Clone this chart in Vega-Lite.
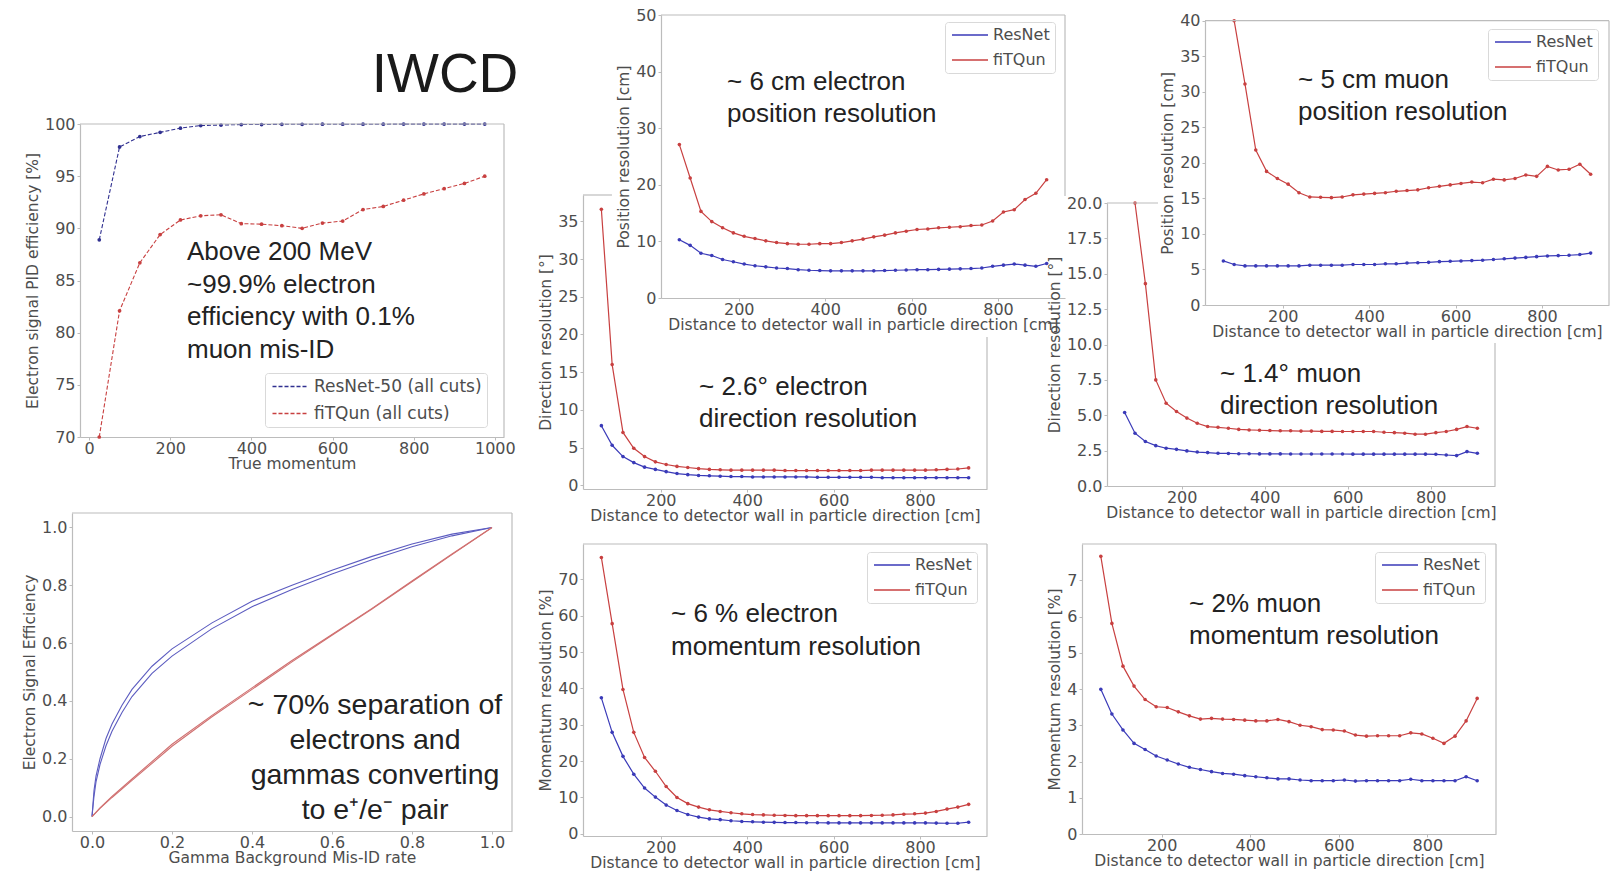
{
"$schema": "https://vega.github.io/schema/vega-lite/v6.json",
"width": 1611, "height": 871, "padding": 0, "autosize": {"type": "none"},
"background": "white",
"config": {
  "view": {"stroke": null},
  "font": "DejaVu Sans",
  "axis": {"grid": false, "domainColor": "#bcbcbc", "domainWidth": 1.2, "tickColor": "#bcbcbc", "tickWidth": 1, "tickSize": 3,
           "labelFont": "DejaVu Sans", "labelFontSize": 16, "labelColor": "#4d4d4d", "labelFlush": false, "labelOverlap": false, "labelBound": false,
           "titleFont": "DejaVu Sans", "titleFontSize": 15.5, "titleFontWeight": "normal", "titleColor": "#4d4d4d"},
  "axisX": {"labelPadding": 0, "titlePadding": 0},
  "axisY": {"labelPadding": 2, "titlePadding": 4},
  "legend": {"labelFont": "DejaVu Sans", "labelFontSize": 16, "labelColor": "#4d4d4d", "labelLimit": 300, "symbolType": "M-3,0H3", "symbolSize": 144, "symbolOffset": 12, "symbolStrokeWidth": 1.3,
             "padding": 5, "rowPadding": 9, "labelOffset": 15, "fillColor": "white", "strokeColor": "#d9d9d9", "cornerRadius": 3}
},
"datasets": {
  "pid": [
    {"p": 25, "series": "ResNet-50 (all cuts)", "eff": 88.9},
    {"p": 75, "series": "ResNet-50 (all cuts)", "eff": 97.8},
    {"p": 125, "series": "ResNet-50 (all cuts)", "eff": 98.8},
    {"p": 175, "series": "ResNet-50 (all cuts)", "eff": 99.2},
    {"p": 225, "series": "ResNet-50 (all cuts)", "eff": 99.6},
    {"p": 275, "series": "ResNet-50 (all cuts)", "eff": 99.85},
    {"p": 325, "series": "ResNet-50 (all cuts)", "eff": 99.9},
    {"p": 375, "series": "ResNet-50 (all cuts)", "eff": 99.95},
    {"p": 425, "series": "ResNet-50 (all cuts)", "eff": 99.95},
    {"p": 475, "series": "ResNet-50 (all cuts)", "eff": 99.97},
    {"p": 525, "series": "ResNet-50 (all cuts)", "eff": 99.97},
    {"p": 575, "series": "ResNet-50 (all cuts)", "eff": 99.98},
    {"p": 625, "series": "ResNet-50 (all cuts)", "eff": 99.98},
    {"p": 675, "series": "ResNet-50 (all cuts)", "eff": 99.98},
    {"p": 725, "series": "ResNet-50 (all cuts)", "eff": 99.98},
    {"p": 775, "series": "ResNet-50 (all cuts)", "eff": 99.99},
    {"p": 825, "series": "ResNet-50 (all cuts)", "eff": 99.99},
    {"p": 875, "series": "ResNet-50 (all cuts)", "eff": 99.99},
    {"p": 925, "series": "ResNet-50 (all cuts)", "eff": 99.99},
    {"p": 975, "series": "ResNet-50 (all cuts)", "eff": 99.99},
    {"p": 25, "series": "fiTQun (all cuts)", "eff": 65},
    {"p": 75, "series": "fiTQun (all cuts)", "eff": 82.1},
    {"p": 125, "series": "fiTQun (all cuts)", "eff": 86.7},
    {"p": 175, "series": "fiTQun (all cuts)", "eff": 89.4},
    {"p": 225, "series": "fiTQun (all cuts)", "eff": 90.8},
    {"p": 275, "series": "fiTQun (all cuts)", "eff": 91.2},
    {"p": 325, "series": "fiTQun (all cuts)", "eff": 91.3},
    {"p": 375, "series": "fiTQun (all cuts)", "eff": 90.45},
    {"p": 425, "series": "fiTQun (all cuts)", "eff": 90.4},
    {"p": 475, "series": "fiTQun (all cuts)", "eff": 90.25},
    {"p": 525, "series": "fiTQun (all cuts)", "eff": 90.0},
    {"p": 575, "series": "fiTQun (all cuts)", "eff": 90.5},
    {"p": 625, "series": "fiTQun (all cuts)", "eff": 90.7},
    {"p": 675, "series": "fiTQun (all cuts)", "eff": 91.8},
    {"p": 725, "series": "fiTQun (all cuts)", "eff": 92.1},
    {"p": 775, "series": "fiTQun (all cuts)", "eff": 92.7},
    {"p": 825, "series": "fiTQun (all cuts)", "eff": 93.3},
    {"p": 875, "series": "fiTQun (all cuts)", "eff": 93.8},
    {"p": 925, "series": "fiTQun (all cuts)", "eff": 94.3},
    {"p": 975, "series": "fiTQun (all cuts)", "eff": 95.0}
  ],
  "roc": [
    {"curve": "ResNet A", "fpr": 0, "tpr": 0}, {"curve": "ResNet A", "fpr": 0.005, "tpr": 0.09}, {"curve": "ResNet A", "fpr": 0.01, "tpr": 0.14},
    {"curve": "ResNet A", "fpr": 0.02, "tpr": 0.2}, {"curve": "ResNet A", "fpr": 0.035, "tpr": 0.27}, {"curve": "ResNet A", "fpr": 0.05, "tpr": 0.32},
    {"curve": "ResNet A", "fpr": 0.075, "tpr": 0.385}, {"curve": "ResNet A", "fpr": 0.1, "tpr": 0.44}, {"curve": "ResNet A", "fpr": 0.15, "tpr": 0.52},
    {"curve": "ResNet A", "fpr": 0.2, "tpr": 0.58}, {"curve": "ResNet A", "fpr": 0.3, "tpr": 0.67}, {"curve": "ResNet A", "fpr": 0.4, "tpr": 0.745},
    {"curve": "ResNet A", "fpr": 0.5, "tpr": 0.8}, {"curve": "ResNet A", "fpr": 0.6, "tpr": 0.852}, {"curve": "ResNet A", "fpr": 0.7, "tpr": 0.9},
    {"curve": "ResNet A", "fpr": 0.8, "tpr": 0.943}, {"curve": "ResNet A", "fpr": 0.9, "tpr": 0.977}, {"curve": "ResNet A", "fpr": 1, "tpr": 1},
    {"curve": "ResNet B", "fpr": 0, "tpr": 0}, {"curve": "ResNet B", "fpr": 0.005, "tpr": 0.07}, {"curve": "ResNet B", "fpr": 0.01, "tpr": 0.12},
    {"curve": "ResNet B", "fpr": 0.02, "tpr": 0.18}, {"curve": "ResNet B", "fpr": 0.035, "tpr": 0.245}, {"curve": "ResNet B", "fpr": 0.05, "tpr": 0.295},
    {"curve": "ResNet B", "fpr": 0.075, "tpr": 0.36}, {"curve": "ResNet B", "fpr": 0.1, "tpr": 0.415}, {"curve": "ResNet B", "fpr": 0.15, "tpr": 0.495},
    {"curve": "ResNet B", "fpr": 0.2, "tpr": 0.555}, {"curve": "ResNet B", "fpr": 0.3, "tpr": 0.65}, {"curve": "ResNet B", "fpr": 0.4, "tpr": 0.726},
    {"curve": "ResNet B", "fpr": 0.5, "tpr": 0.785}, {"curve": "ResNet B", "fpr": 0.6, "tpr": 0.839}, {"curve": "ResNet B", "fpr": 0.7, "tpr": 0.888},
    {"curve": "ResNet B", "fpr": 0.8, "tpr": 0.933}, {"curve": "ResNet B", "fpr": 0.9, "tpr": 0.971}, {"curve": "ResNet B", "fpr": 1, "tpr": 1},
    {"curve": "fiTQun A", "fpr": 0, "tpr": 0}, {"curve": "fiTQun A", "fpr": 0.02, "tpr": 0.03}, {"curve": "fiTQun A", "fpr": 0.05, "tpr": 0.07},
    {"curve": "fiTQun A", "fpr": 0.1, "tpr": 0.13}, {"curve": "fiTQun A", "fpr": 0.2, "tpr": 0.25}, {"curve": "fiTQun A", "fpr": 0.3, "tpr": 0.35},
    {"curve": "fiTQun A", "fpr": 0.4, "tpr": 0.445}, {"curve": "fiTQun A", "fpr": 0.5, "tpr": 0.54}, {"curve": "fiTQun A", "fpr": 0.6, "tpr": 0.63},
    {"curve": "fiTQun A", "fpr": 0.7, "tpr": 0.72}, {"curve": "fiTQun A", "fpr": 0.8, "tpr": 0.815}, {"curve": "fiTQun A", "fpr": 0.9, "tpr": 0.908},
    {"curve": "fiTQun A", "fpr": 1, "tpr": 1},
    {"curve": "fiTQun B", "fpr": 0, "tpr": 0}, {"curve": "fiTQun B", "fpr": 0.02, "tpr": 0.028}, {"curve": "fiTQun B", "fpr": 0.05, "tpr": 0.066},
    {"curve": "fiTQun B", "fpr": 0.1, "tpr": 0.125}, {"curve": "fiTQun B", "fpr": 0.2, "tpr": 0.243}, {"curve": "fiTQun B", "fpr": 0.3, "tpr": 0.345},
    {"curve": "fiTQun B", "fpr": 0.4, "tpr": 0.44}, {"curve": "fiTQun B", "fpr": 0.5, "tpr": 0.535}, {"curve": "fiTQun B", "fpr": 0.6, "tpr": 0.627},
    {"curve": "fiTQun B", "fpr": 0.7, "tpr": 0.718}, {"curve": "fiTQun B", "fpr": 0.8, "tpr": 0.812}, {"curve": "fiTQun B", "fpr": 0.9, "tpr": 0.906},
    {"curve": "fiTQun B", "fpr": 1, "tpr": 1}
  ],
  "res": [
    {"x": 62.5, "series": "ResNet", "epos": 10.3, "edir": 7.9, "emom": 37.4, "mpos": 6.2, "mdir": 5.19, "mmom": 3.99},
    {"x": 87.5, "series": "ResNet", "epos": 9.3, "edir": 5.3, "emom": 27.9, "mpos": 5.7, "mdir": 3.73, "mmom": 3.31},
    {"x": 112.5, "series": "ResNet", "epos": 7.9, "edir": 3.8, "emom": 21.3, "mpos": 5.5, "mdir": 3.14, "mmom": 2.87},
    {"x": 137.5, "series": "ResNet", "epos": 7.5, "edir": 3.0, "emom": 16.4, "mpos": 5.5, "mdir": 2.85, "mmom": 2.5},
    {"x": 162.5, "series": "ResNet", "epos": 6.8, "edir": 2.4, "emom": 12.6, "mpos": 5.5, "mdir": 2.67, "mmom": 2.33},
    {"x": 187.5, "series": "ResNet", "epos": 6.4, "edir": 2.1, "emom": 10.1, "mpos": 5.5, "mdir": 2.59, "mmom": 2.15},
    {"x": 212.5, "series": "ResNet", "epos": 6.0, "edir": 1.8, "emom": 7.9, "mpos": 5.5, "mdir": 2.48, "mmom": 2.04},
    {"x": 237.5, "series": "ResNet", "epos": 5.7, "edir": 1.55, "emom": 6.4, "mpos": 5.5, "mdir": 2.4, "mmom": 1.93},
    {"x": 262.5, "series": "ResNet", "epos": 5.5, "edir": 1.4, "emom": 5.3, "mpos": 5.6, "mdir": 2.36, "mmom": 1.84},
    {"x": 287.5, "series": "ResNet", "epos": 5.3, "edir": 1.3, "emom": 4.6, "mpos": 5.6, "mdir": 2.31, "mmom": 1.78},
    {"x": 312.5, "series": "ResNet", "epos": 5.2, "edir": 1.25, "emom": 4.1, "mpos": 5.6, "mdir": 2.3, "mmom": 1.72},
    {"x": 337.5, "series": "ResNet", "epos": 5.0, "edir": 1.2, "emom": 3.9, "mpos": 5.6, "mdir": 2.28, "mmom": 1.67},
    {"x": 362.5, "series": "ResNet", "epos": 4.9, "edir": 1.15, "emom": 3.6, "mpos": 5.7, "mdir": 2.28, "mmom": 1.65},
    {"x": 387.5, "series": "ResNet", "epos": 4.85, "edir": 1.15, "emom": 3.4, "mpos": 5.7, "mdir": 2.27, "mmom": 1.61},
    {"x": 412.5, "series": "ResNet", "epos": 4.8, "edir": 1.1, "emom": 3.3, "mpos": 5.7, "mdir": 2.27, "mmom": 1.58},
    {"x": 437.5, "series": "ResNet", "epos": 4.8, "edir": 1.1, "emom": 3.2, "mpos": 5.8, "mdir": 2.27, "mmom": 1.55},
    {"x": 462.5, "series": "ResNet", "epos": 4.8, "edir": 1.1, "emom": 3.15, "mpos": 5.8, "mdir": 2.26, "mmom": 1.52},
    {"x": 487.5, "series": "ResNet", "epos": 4.8, "edir": 1.1, "emom": 3.1, "mpos": 5.9, "mdir": 2.26, "mmom": 1.52},
    {"x": 512.5, "series": "ResNet", "epos": 4.8, "edir": 1.1, "emom": 3.1, "mpos": 5.95, "mdir": 2.26, "mmom": 1.49},
    {"x": 537.5, "series": "ResNet", "epos": 4.85, "edir": 1.1, "emom": 3.05, "mpos": 6.0, "mdir": 2.26, "mmom": 1.47},
    {"x": 562.5, "series": "ResNet", "epos": 4.9, "edir": 1.05, "emom": 3.05, "mpos": 6.1, "mdir": 2.26, "mmom": 1.47},
    {"x": 587.5, "series": "ResNet", "epos": 4.95, "edir": 1.05, "emom": 3.0, "mpos": 6.15, "mdir": 2.26, "mmom": 1.47},
    {"x": 612.5, "series": "ResNet", "epos": 5.0, "edir": 1.05, "emom": 3.0, "mpos": 6.2, "mdir": 2.25, "mmom": 1.49},
    {"x": 637.5, "series": "ResNet", "epos": 5.0, "edir": 1.05, "emom": 3.0, "mpos": 6.25, "mdir": 2.25, "mmom": 1.46},
    {"x": 662.5, "series": "ResNet", "epos": 5.05, "edir": 1.05, "emom": 3.0, "mpos": 6.3, "mdir": 2.25, "mmom": 1.47},
    {"x": 687.5, "series": "ResNet", "epos": 5.1, "edir": 1.05, "emom": 3.0, "mpos": 6.4, "mdir": 2.25, "mmom": 1.47},
    {"x": 712.5, "series": "ResNet", "epos": 5.15, "edir": 1.0, "emom": 3.0, "mpos": 6.5, "mdir": 2.25, "mmom": 1.47},
    {"x": 737.5, "series": "ResNet", "epos": 5.2, "edir": 1.0, "emom": 3.0, "mpos": 6.6, "mdir": 2.25, "mmom": 1.47},
    {"x": 762.5, "series": "ResNet", "epos": 5.3, "edir": 1.0, "emom": 3.0, "mpos": 6.7, "mdir": 2.25, "mmom": 1.51},
    {"x": 787.5, "series": "ResNet", "epos": 5.6, "edir": 1.0, "emom": 3.0, "mpos": 6.8, "mdir": 2.25, "mmom": 1.47},
    {"x": 812.5, "series": "ResNet", "epos": 5.8, "edir": 1.0, "emom": 3.0, "mpos": 6.9, "mdir": 2.24, "mmom": 1.47},
    {"x": 837.5, "series": "ResNet", "epos": 6.0, "edir": 1.0, "emom": 2.95, "mpos": 6.95, "mdir": 2.19, "mmom": 1.47},
    {"x": 862.5, "series": "ResNet", "epos": 5.8, "edir": 1.0, "emom": 2.9, "mpos": 7.0, "mdir": 2.15, "mmom": 1.47},
    {"x": 887.5, "series": "ResNet", "epos": 5.6, "edir": 1.0, "emom": 2.9, "mpos": 7.1, "mdir": 2.43, "mmom": 1.58},
    {"x": 912.5, "series": "ResNet", "epos": 6.1, "edir": 1.0, "emom": 3.2, "mpos": 7.3, "mdir": 2.31, "mmom": 1.47},
    {"x": 62.5, "series": "fiTQun", "epos": 27.1, "edir": 36.6, "emom": 76.0, "mpos": null, "mdir": null, "mmom": 7.66},
    {"x": 87.5, "series": "fiTQun", "epos": 21.2, "edir": 16.0, "emom": 57.8, "mpos": 43, "mdir": 70, "mmom": 5.81},
    {"x": 112.5, "series": "fiTQun", "epos": 15.3, "edir": 7.0, "emom": 39.7, "mpos": 31.1, "mdir": 14.3, "mmom": 4.63},
    {"x": 137.5, "series": "fiTQun", "epos": 13.5, "edir": 4.9, "emom": 27.9, "mpos": 21.8, "mdir": 7.5, "mmom": 4.08},
    {"x": 162.5, "series": "fiTQun", "epos": 12.4, "edir": 3.8, "emom": 21.0, "mpos": 18.8, "mdir": 5.85, "mmom": 3.71},
    {"x": 187.5, "series": "fiTQun", "epos": 11.5, "edir": 3.1, "emom": 17.2, "mpos": 17.8, "mdir": 5.26, "mmom": 3.51},
    {"x": 212.5, "series": "fiTQun", "epos": 10.9, "edir": 2.75, "emom": 13.0, "mpos": 17.0, "mdir": 4.8, "mmom": 3.49},
    {"x": 237.5, "series": "fiTQun", "epos": 10.5, "edir": 2.5, "emom": 10.0, "mpos": 15.8, "mdir": 4.43, "mmom": 3.37},
    {"x": 262.5, "series": "fiTQun", "epos": 10.1, "edir": 2.35, "emom": 8.3, "mpos": 15.2, "mdir": 4.2, "mmom": 3.26},
    {"x": 287.5, "series": "fiTQun", "epos": 9.8, "edir": 2.2, "emom": 7.35, "mpos": 15.15, "mdir": 4.15, "mmom": 3.17},
    {"x": 312.5, "series": "fiTQun", "epos": 9.6, "edir": 2.1, "emom": 6.6, "mpos": 15.1, "mdir": 4.08, "mmom": 3.19},
    {"x": 337.5, "series": "fiTQun", "epos": 9.5, "edir": 2.05, "emom": 6.15, "mpos": 15.2, "mdir": 4.0, "mmom": 3.17},
    {"x": 362.5, "series": "fiTQun", "epos": 9.5, "edir": 2.0, "emom": 5.8, "mpos": 15.5, "mdir": 3.96, "mmom": 3.16},
    {"x": 387.5, "series": "fiTQun", "epos": 9.6, "edir": 2.0, "emom": 5.5, "mpos": 15.6, "mdir": 3.94, "mmom": 3.14},
    {"x": 412.5, "series": "fiTQun", "epos": 9.6, "edir": 2.0, "emom": 5.3, "mpos": 15.7, "mdir": 3.92, "mmom": 3.12},
    {"x": 437.5, "series": "fiTQun", "epos": 9.8, "edir": 2.0, "emom": 5.2, "mpos": 15.8, "mdir": 3.9, "mmom": 3.12},
    {"x": 462.5, "series": "fiTQun", "epos": 10.1, "edir": 2.0, "emom": 5.1, "mpos": 16.0, "mdir": 3.9, "mmom": 3.16},
    {"x": 487.5, "series": "fiTQun", "epos": 10.4, "edir": 1.95, "emom": 5.05, "mpos": 16.1, "mdir": 3.88, "mmom": 3.1},
    {"x": 512.5, "series": "fiTQun", "epos": 10.8, "edir": 1.95, "emom": 5.0, "mpos": 16.2, "mdir": 3.88, "mmom": 3.0},
    {"x": 537.5, "series": "fiTQun", "epos": 11.1, "edir": 1.95, "emom": 5.0, "mpos": 16.5, "mdir": 3.86, "mmom": 2.96},
    {"x": 562.5, "series": "fiTQun", "epos": 11.5, "edir": 1.95, "emom": 5.0, "mpos": 16.7, "mdir": 3.86, "mmom": 2.88},
    {"x": 587.5, "series": "fiTQun", "epos": 11.8, "edir": 1.95, "emom": 5.0, "mpos": 16.9, "mdir": 3.85, "mmom": 2.87},
    {"x": 612.5, "series": "fiTQun", "epos": 12.1, "edir": 1.95, "emom": 5.0, "mpos": 17.1, "mdir": 3.85, "mmom": 2.84},
    {"x": 637.5, "series": "fiTQun", "epos": 12.2, "edir": 1.95, "emom": 5.0, "mpos": 17.3, "mdir": 3.85, "mmom": 2.73},
    {"x": 662.5, "series": "fiTQun", "epos": 12.4, "edir": 1.95, "emom": 5.0, "mpos": 17.2, "mdir": 3.85, "mmom": 2.7},
    {"x": 687.5, "series": "fiTQun", "epos": 12.5, "edir": 2.0, "emom": 5.05, "mpos": 17.7, "mdir": 3.8, "mmom": 2.71},
    {"x": 712.5, "series": "fiTQun", "epos": 12.6, "edir": 2.0, "emom": 5.1, "mpos": 17.6, "mdir": 3.77, "mmom": 2.71},
    {"x": 737.5, "series": "fiTQun", "epos": 12.8, "edir": 2.0, "emom": 5.2, "mpos": 17.8, "mdir": 3.73, "mmom": 2.71},
    {"x": 762.5, "series": "fiTQun", "epos": 12.9, "edir": 2.0, "emom": 5.4, "mpos": 18.3, "mdir": 3.66, "mmom": 2.79},
    {"x": 787.5, "series": "fiTQun", "epos": 13.6, "edir": 2.0, "emom": 5.5, "mpos": 18.1, "mdir": 3.66, "mmom": 2.76},
    {"x": 812.5, "series": "fiTQun", "epos": 15.2, "edir": 2.0, "emom": 5.7, "mpos": 19.5, "mdir": 3.77, "mmom": 2.64},
    {"x": 837.5, "series": "fiTQun", "epos": 15.6, "edir": 2.05, "emom": 6.15, "mpos": 19.0, "mdir": 3.85, "mmom": 2.5},
    {"x": 862.5, "series": "fiTQun", "epos": 17.4, "edir": 2.1, "emom": 6.8, "mpos": 19.1, "mdir": 4.0, "mmom": 2.7},
    {"x": 887.5, "series": "fiTQun", "epos": 18.5, "edir": 2.15, "emom": 7.35, "mpos": 19.8, "mdir": 4.2, "mmom": 3.12},
    {"x": 912.5, "series": "fiTQun", "epos": 20.9, "edir": 2.3, "emom": 8.1, "mpos": 18.4, "mdir": 4.08, "mmom": 3.74}
  ]
},
"layer": [
  {
    "layer": [
      {"data": {"name": "pid"},
       "mark": {"type": "line", "strokeWidth": 1.1, "strokeDash": [4, 2], "point": {"filled": true, "size": 14}},
       "encoding": {
         "x": {"field": "p", "type": "quantitative", "scale": {"domain": [-22.5, 1022.5], "range": [80, 504], "nice": false, "zero": false},
               "axis": {"orient": "bottom", "offset": -434, "values": [0, 200, 400, 600, 800, 1000], "format": "d", "title": "True momentum"}},
         "y": {"field": "eff", "type": "quantitative", "scale": {"domain": [70, 100], "range": [437, 124], "nice": false, "zero": false, "clamp": true},
               "axis": {"orient": "left", "offset": -80, "values": [70, 75, 80, 85, 90, 95, 100], "format": "d", "title": "Electron signal PID efficiency [%]"}},
         "color": {"field": "series", "type": "nominal", "scale": {"domain": ["ResNet-50 (all cuts)", "fiTQun (all cuts)"], "range": ["#303090", "#c84040"]},
                   "legend": {"title": null, "orient": "none", "legendX": 265, "legendY": 373, "labelFontSize": 17, "symbolDash": [4, 2]}}
       }},
      {"data": {"values": [{}]},
       "mark": {"type": "text", "text": ["Above 200 MeV", "~99.9% electron", "efficiency with 0.1%", "muon mis-ID"], "align": "left", "baseline": "middle", "font": "Liberation Sans", "fontSize": 26, "lineHeight": 32.7, "color": "#222222"},
       "encoding": {"x": {"datum": 241.2}, "y": {"datum": 87.73}}},
      {"data": {"values": [{}]}, "mark": {"type": "rule", "color": "#bcbcbc", "strokeWidth": 1.2},
       "encoding": {"x": {"datum": -22.5}, "x2": {"datum": 1022.5}, "y": {"datum": 100}}},
      {"data": {"values": [{}]}, "mark": {"type": "rule", "color": "#bcbcbc", "strokeWidth": 1.2},
       "encoding": {"x": {"datum": 1022.5}, "y": {"datum": 70}, "y2": {"datum": 100}}}
    ]
  },
  {
    "layer": [
      {"data": {"name": "roc"},
       "mark": {"type": "line", "strokeWidth": 1.1},
       "encoding": {
         "x": {"field": "fpr", "type": "quantitative", "scale": {"domain": [-0.05, 1.05], "range": [72, 512], "nice": false, "zero": false},
               "axis": {"orient": "bottom", "offset": -40, "values": [0, 0.2, 0.4, 0.6, 0.8, 1], "format": ".1f", "title": "Gamma Background Mis-ID rate"}},
         "y": {"field": "tpr", "type": "quantitative", "scale": {"domain": [-0.05, 1.05], "range": [831, 513], "nice": false, "zero": false},
               "axis": {"orient": "left", "offset": -72, "values": [0, 0.2, 0.4, 0.6, 0.8, 1], "format": ".1f", "title": "Electron Signal Efficiency"}},
         "color": {"field": "curve", "type": "nominal", "scale": {"domain": ["ResNet A", "ResNet B", "fiTQun A", "fiTQun B"], "range": ["#5c5cc0", "#5c5cc0", "#d07070", "#d07070"]}, "legend": null}
       }},
      {"data": {"values": [{}]},
       "mark": {"type": "text", "text": ["~ 70% separation of", "electrons and", "gammas converting", "to e⁺/e⁻ pair"], "align": "center", "baseline": "middle", "font": "Liberation Sans", "fontSize": 28.5, "lineHeight": 35, "color": "#222222"},
       "encoding": {"x": {"datum": 0.7075}, "y": {"datum": 0.3858}}},
      {"data": {"values": [{}]},
       "mark": {"type": "text", "text": "IWCD", "align": "center", "baseline": "middle", "font": "Liberation Sans", "fontSize": 55, "color": "#1a1a1a"},
       "encoding": {"x": {"datum": 0.8825}, "y": {"datum": 2.565}}},
      {"data": {"values": [{}]}, "mark": {"type": "rule", "color": "#bcbcbc", "strokeWidth": 1.2},
       "encoding": {"x": {"datum": -0.05}, "x2": {"datum": 1.05}, "y": {"datum": 1.05}}},
      {"data": {"values": [{}]}, "mark": {"type": "rule", "color": "#bcbcbc", "strokeWidth": 1.2},
       "encoding": {"x": {"datum": 1.05}, "y": {"datum": -0.05}, "y2": {"datum": 1.05}}}
    ]
  },
  {
    "layer": [
      {"data": {"name": "res"},
       "mark": {"type": "line", "strokeWidth": 1.2, "point": {"filled": true, "size": 13}},
       "encoding": {
         "x": {"field": "x", "type": "quantitative", "scale": {"domain": [20, 955], "range": [583, 987], "nice": false, "zero": false},
               "axis": {"orient": "bottom", "offset": -382, "values": [200, 400, 600, 800], "format": "d", "title": "Distance to detector wall in particle direction [cm]"}},
         "y": {"field": "edir", "type": "quantitative", "scale": {"domain": [-0.5, 38.5], "range": [489, 195], "nice": false, "zero": false},
               "axis": {"orient": "left", "offset": -583, "values": [0, 5, 10, 15, 20, 25, 30, 35], "format": "d", "title": "Direction resolution [°]"}},
         "color": {"field": "series", "type": "nominal", "scale": {"domain": ["ResNet", "fiTQun"], "range": ["#3a3ab8", "#c84040"]}, "legend": null}
       }},
      {"data": {"values": [{}]},
       "mark": {"type": "text", "text": ["~ 2.6° electron", "direction resolution"], "align": "left", "baseline": "middle", "font": "Liberation Sans", "fontSize": 26, "lineHeight": 32, "color": "#222222"},
       "encoding": {"x": {"datum": 288.5}, "y": {"datum": 13.03}}},
      {"data": {"values": [{}]}, "mark": {"type": "rule", "color": "#bcbcbc", "strokeWidth": 1.2},
       "encoding": {"x": {"datum": 20}, "x2": {"datum": 87}, "y": {"datum": 38.5}}},
      {"data": {"values": [{}]}, "mark": {"type": "rule", "color": "#bcbcbc", "strokeWidth": 1.2},
       "encoding": {"x": {"datum": 955}, "y": {"datum": -0.5}, "y2": {"datum": 19.66}}}
    ]
  },
  {
    "layer": [
      {"data": {"name": "res"},
       "mark": {"type": "line", "strokeWidth": 1.2, "point": {"filled": true, "size": 13}},
       "encoding": {
         "x": {"field": "x", "type": "quantitative", "scale": {"domain": [20, 955], "range": [661, 1065], "nice": false, "zero": false},
               "axis": {"orient": "bottom", "offset": -573, "values": [200, 400, 600, 800], "format": "d", "title": "Distance to detector wall in particle direction [cm]"}},
         "y": {"field": "epos", "type": "quantitative", "scale": {"domain": [0, 50], "range": [298, 15], "nice": false, "zero": false},
               "axis": {"orient": "left", "offset": -661, "values": [0, 10, 20, 30, 40, 50], "format": "d", "title": "Position resolution [cm]"}},
         "color": {"field": "series", "type": "nominal", "scale": {"domain": ["ResNet", "fiTQun"], "range": ["#3a3ab8", "#c84040"]},
                   "legend": {"title": null, "orient": "none", "legendX": 945, "legendY": 22}}
       }},
      {"data": {"values": [{}]},
       "mark": {"type": "text", "text": ["~ 6 cm electron", "position resolution"], "align": "left", "baseline": "middle", "font": "Liberation Sans", "fontSize": 26, "lineHeight": 32, "color": "#222222"},
       "encoding": {"x": {"datum": 172.7}, "y": {"datum": 38.16}}},
      {"data": {"values": [{}]}, "mark": {"type": "rule", "color": "#bcbcbc", "strokeWidth": 1.2},
       "encoding": {"x": {"datum": 20}, "x2": {"datum": 955}, "y": {"datum": 50}}},
      {"data": {"values": [{}]}, "mark": {"type": "rule", "color": "#bcbcbc", "strokeWidth": 1.2},
       "encoding": {"x": {"datum": 955}, "y": {"datum": 18}, "y2": {"datum": 50}}}
    ]
  },
  {
    "layer": [
      {"data": {"name": "res"},
       "mark": {"type": "line", "strokeWidth": 1.2, "point": {"filled": true, "size": 13}},
       "encoding": {
         "x": {"field": "x", "type": "quantitative", "scale": {"domain": [20, 955], "range": [1107, 1495], "nice": false, "zero": false},
               "axis": {"orient": "bottom", "offset": -385, "values": [200, 400, 600, 800], "format": "d", "title": "Distance to detector wall in particle direction [cm]"}},
         "y": {"field": "mdir", "type": "quantitative", "scale": {"domain": [0, 20], "range": [486, 203], "nice": false, "zero": false, "clamp": true},
               "axis": {"orient": "left", "offset": -1107, "values": [0, 2.5, 5, 7.5, 10, 12.5, 15, 17.5, 20], "format": ".1f", "title": "Direction resolution [°]"}},
         "color": {"field": "series", "type": "nominal", "scale": {"domain": ["ResNet", "fiTQun"], "range": ["#3a3ab8", "#c84040"]}, "legend": null}
       }},
      {"data": {"values": [{}]},
       "mark": {"type": "text", "text": ["~ 1.4° muon", "direction resolution"], "align": "left", "baseline": "middle", "font": "Liberation Sans", "fontSize": 26, "lineHeight": 32, "color": "#222222"},
       "encoding": {"x": {"datum": 292.3}, "y": {"datum": 7.92}}},
      {"data": {"values": [{}]}, "mark": {"type": "rule", "color": "#bcbcbc", "strokeWidth": 1.2},
       "encoding": {"x": {"datum": 20}, "x2": {"datum": 142.9}, "y": {"datum": 20}}},
      {"data": {"values": [{}]}, "mark": {"type": "rule", "color": "#bcbcbc", "strokeWidth": 1.2},
       "encoding": {"x": {"datum": 955}, "y": {"datum": 0}, "y2": {"datum": 10.1}}}
    ]
  },
  {
    "layer": [
      {"data": {"name": "res"},
       "mark": {"type": "line", "strokeWidth": 1.2, "point": {"filled": true, "size": 13}},
       "encoding": {
         "x": {"field": "x", "type": "quantitative", "scale": {"domain": [20, 955], "range": [583, 987], "nice": false, "zero": false},
               "axis": {"orient": "bottom", "offset": -35, "values": [200, 400, 600, 800], "format": "d", "title": "Distance to detector wall in particle direction [cm]"}},
         "y": {"field": "emom", "type": "quantitative", "scale": {"domain": [-0.6, 79.7], "range": [836, 544], "nice": false, "zero": false},
               "axis": {"orient": "left", "offset": -583, "values": [0, 10, 20, 30, 40, 50, 60, 70], "format": "d", "title": "Momentum resolution [%]"}},
         "color": {"field": "series", "type": "nominal", "scale": {"domain": ["ResNet", "fiTQun"], "range": ["#3a3ab8", "#c84040"]},
                   "legend": {"title": null, "orient": "none", "legendX": 867, "legendY": 552}}
       }},
      {"data": {"values": [{}]},
       "mark": {"type": "text", "text": ["~ 6 % electron", "momentum resolution"], "align": "left", "baseline": "middle", "font": "Liberation Sans", "fontSize": 26, "lineHeight": 33, "color": "#222222"},
       "encoding": {"x": {"datum": 223.7}, "y": {"datum": 60.46}}},
      {"data": {"values": [{}]}, "mark": {"type": "rule", "color": "#bcbcbc", "strokeWidth": 1.2},
       "encoding": {"x": {"datum": 20}, "x2": {"datum": 955}, "y": {"datum": 79.7}}},
      {"data": {"values": [{}]}, "mark": {"type": "rule", "color": "#bcbcbc", "strokeWidth": 1.2},
       "encoding": {"x": {"datum": 955}, "y": {"datum": -0.6}, "y2": {"datum": 79.7}}}
    ]
  },
  {
    "layer": [
      {"data": {"name": "res"},
       "mark": {"type": "line", "strokeWidth": 1.2, "point": {"filled": true, "size": 13}},
       "encoding": {
         "x": {"field": "x", "type": "quantitative", "scale": {"domain": [20, 955], "range": [1205, 1609], "nice": false, "zero": false},
               "axis": {"orient": "bottom", "offset": -566, "values": [200, 400, 600, 800], "format": "d", "title": "Distance to detector wall in particle direction [cm]"}},
         "y": {"field": "mpos", "type": "quantitative", "scale": {"domain": [0, 40], "range": [305, 20.7], "nice": false, "zero": false, "clamp": true},
               "axis": {"orient": "left", "offset": -1205, "values": [0, 5, 10, 15, 20, 25, 30, 35, 40], "format": "d", "title": "Position resolution [cm]"}},
         "color": {"field": "series", "type": "nominal", "scale": {"domain": ["ResNet", "fiTQun"], "range": ["#3a3ab8", "#c84040"]},
                   "legend": {"title": null, "orient": "none", "legendX": 1488, "legendY": 29}}
       }},
      {"data": {"values": [{}]},
       "mark": {"type": "text", "text": ["~ 5 cm muon", "position resolution"], "align": "left", "baseline": "middle", "font": "Liberation Sans", "fontSize": 26, "lineHeight": 32, "color": "#222222"},
       "encoding": {"x": {"datum": 235.2}, "y": {"datum": 31.66}}},
      {"data": {"values": [{}]}, "mark": {"type": "rule", "color": "#bcbcbc", "strokeWidth": 1.2},
       "encoding": {"x": {"datum": 20}, "x2": {"datum": 955}, "y": {"datum": 40}}},
      {"data": {"values": [{}]}, "mark": {"type": "rule", "color": "#bcbcbc", "strokeWidth": 1.2},
       "encoding": {"x": {"datum": 955}, "y": {"datum": 0}, "y2": {"datum": 40}}}
    ]
  },
  {
    "layer": [
      {"data": {"name": "res"},
       "mark": {"type": "line", "strokeWidth": 1.2, "point": {"filled": true, "size": 13}},
       "encoding": {
         "x": {"field": "x", "type": "quantitative", "scale": {"domain": [20, 955], "range": [1082, 1496], "nice": false, "zero": false},
               "axis": {"orient": "bottom", "offset": -37, "values": [200, 400, 600, 800], "format": "d", "title": "Distance to detector wall in particle direction [cm]"}},
         "y": {"field": "mmom", "type": "quantitative", "scale": {"domain": [0, 8], "range": [834, 544], "nice": false, "zero": false},
               "axis": {"orient": "left", "offset": -1082, "values": [0, 1, 2, 3, 4, 5, 6, 7], "format": "d", "title": "Momentum resolution [%]"}},
         "color": {"field": "series", "type": "nominal", "scale": {"domain": ["ResNet", "fiTQun"], "range": ["#3a3ab8", "#c84040"]},
                   "legend": {"title": null, "orient": "none", "legendX": 1375, "legendY": 552}}
       }},
      {"data": {"values": [{}]},
       "mark": {"type": "text", "text": ["~ 2% muon", "momentum resolution"], "align": "left", "baseline": "middle", "font": "Liberation Sans", "fontSize": 26, "lineHeight": 32, "color": "#222222"},
       "encoding": {"x": {"datum": 261.7}, "y": {"datum": 6.34}}},
      {"data": {"values": [{}]}, "mark": {"type": "rule", "color": "#bcbcbc", "strokeWidth": 1.2},
       "encoding": {"x": {"datum": 20}, "x2": {"datum": 955}, "y": {"datum": 8}}},
      {"data": {"values": [{}]}, "mark": {"type": "rule", "color": "#bcbcbc", "strokeWidth": 1.2},
       "encoding": {"x": {"datum": 955}, "y": {"datum": 0}, "y2": {"datum": 8}}}
    ]
  }
],
"resolve": {"scale": {"x": "independent", "y": "independent", "color": "independent"}, "axis": {"x": "independent", "y": "independent"}, "legend": {"color": "independent"}}
}
